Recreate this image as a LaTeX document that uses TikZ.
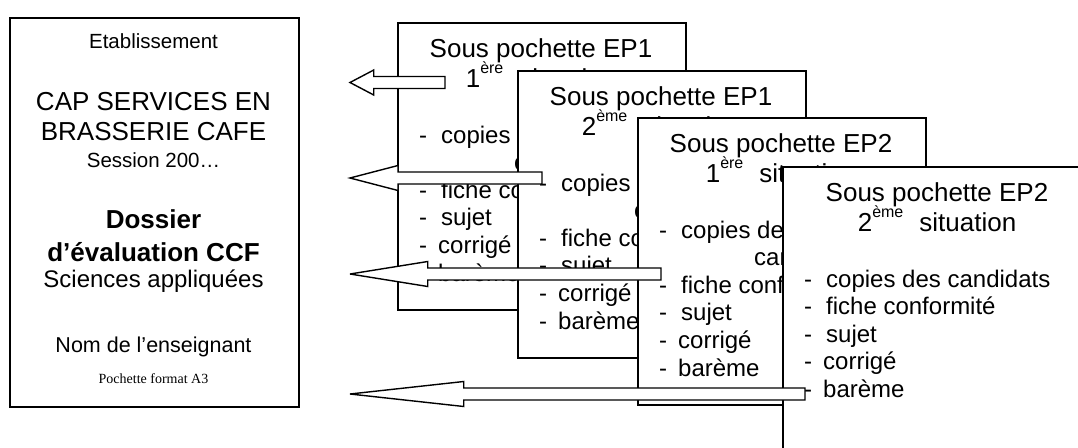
\documentclass[tikz,border=0pt]{standalone}
\usepackage{fontspec}
\setmainfont{Liberation Sans}
\newfontfamily\timesfont{Liberation Serif}

\newcommand{\tiret}[1][22pt]{\makebox[#1][l]{-}}

\begin{document}
\begin{tikzpicture}[x=1pt, y=-1pt,
    folder/.style={rectangle, draw, line width=2pt, anchor=north west, minimum width=289pt, minimum height=389pt, inner sep=0pt},
    sheet/.style={rectangle, draw, fill=white, line width=1.6pt, anchor=north west, minimum width=288pt, minimum height=287pt, inner sep=0pt},
    txt/.style={anchor=base, inner sep=0pt},
    heading/.style={anchor=base, inner sep=0pt, font=\fontsize{26}{31}\selectfont},
    listitem/.style={anchor=base west, inner sep=0pt, font=\fontsize{24}{28}\selectfont},
    blockarrow/.style={draw, fill=white, line width=1.4pt, miter limit=4}]

    \useasboundingbox (0,0) rectangle (1078,447);
    \fill[white] (0,0) rectangle (1078,447);
    \clip (0,0) rectangle (1078,447);

    % Node for the A3 folder
    \node [folder] (folder) at (9,17) {};
    \node [txt, font=\fontsize{20.5}{24}\selectfont] (etab) at (153.5,48) {Etablissement};
    \node [txt, font=\fontsize{26}{30}\selectfont] (cap) at (153.5,110) {CAP SERVICES EN};
    \node [txt, font=\fontsize{26}{30}\selectfont] (brasserie) at (153.5,140) {BRASSERIE CAFE};
    \node [txt, font=\fontsize{20.5}{24}\selectfont] (session) at (153.5,167) {Session 200…};
    \node [txt, font=\fontsize{26}{30}\selectfont\bfseries] (dossier) at (153.5,228) {Dossier};
    \node [txt, font=\fontsize{26}{30}\selectfont\bfseries] (ccf) at (153.5,261) {d’évaluation CCF};
    \node [txt, font=\fontsize{24}{28}\selectfont] (sciences) at (153.5,287) {Sciences appliquées};
    \node [txt, font=\fontsize{21.5}{25}\selectfont] (nom) at (153.5,352) {Nom de l’enseignant};
    \node [txt, font=\timesfont\fontsize{14}{16}\selectfont] (format) at (153.5,383) {Pochette format A3};

    % Nodes for the first three sub-pockets
    \foreach \bx/\by/\ep/\nb/\sx in {397/22/EP1/1/ère, 517/70/EP1/2/ème, 637/117/EP2/1/ère}{
        \node [sheet] (sp\ep-\nb) at (\bx,\by) {};
        \node [heading] (sp\ep-\nb-t) at ({\bx+144},{\by+35}) {Sous pochette \ep};
        \node [heading] (sp\ep-\nb-s) at ({\bx+144},{\by+65.5})
            {\nb\raisebox{14pt}{\fontsize{16}{16}\selectfont\sx}\hspace{16pt}situation};
        \foreach \t [count=\i] in {\tiret copies des, \hspace*{95pt}candidats, \tiret fiche conformité,
                                   \tiret sujet, \tiret[19pt]corrigé, \tiret[19pt]barème}
            \node [listitem] (sp\ep-\nb-\i) at ({\bx+22},{\by+121+27.6*(\i-1)}) {\t};
    }

    % Node for the last sub-pocket (wider)
    \node [sheet, minimum width=310pt, minimum height=288pt] (spEP2-2) at (782,166) {};
    \node [heading] (spEP2-2-t) at (937,201) {Sous pochette EP2};
    \node [heading] (spEP2-2-s) at (937,231.5)
        {2\raisebox{14pt}{\fontsize{16}{16}\selectfont ème}\hspace{16pt}situation};
    \foreach \t [count=\i] in {\tiret copies des candidats, \tiret fiche conformité,
                               \tiret sujet, \tiret[19pt]corrigé, \tiret[19pt]barème}
        \node [listitem] (spEP2-2-\i) at (804,{287+27.6*(\i-1)}) {\t};

    % Block arrows back to the folder
    \foreach \ay/\at [count=\k] in {82.5/445, 178/542, 274/661, 394/805}{
        \pgfmathsetmacro{\ah}{350+0.25*(\at-350)}
        \draw [blockarrow] (350,\ay) coordinate (tip\k) -- ({\ah},{\ay-12.5}) -- ({\ah},{\ay-6})
            -- ({\at},{\ay-6}) -- ({\at},{\ay+6}) -- ({\ah},{\ay+6}) -- ({\ah},{\ay+12.5}) -- cycle;
    }
\end{tikzpicture}
\end{document}
